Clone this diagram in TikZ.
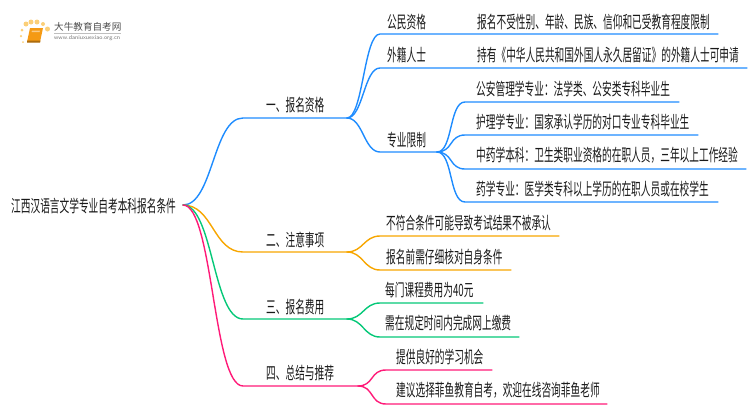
\documentclass[tikz,border=0pt]{standalone}
\usepackage{fontspec}
\newfontfamily\cjk[FakeStretch=.57]{Noto Sans CJK SC}
\newfontfamily\cjklogo{Noto Sans CJK SC}
\definecolor{linkblue}{HTML}{1E8CFF}
\definecolor{linkorange}{HTML}{F7A600}
\definecolor{linkgreen}{HTML}{05C878}
\definecolor{linkpink}{HTML}{FF1A78}
\definecolor{bookorange}{HTML}{F59A14}
\definecolor{dotyellow}{HTML}{FBCF78}
\tikzset{
	txt/.style={anchor=west,inner sep=0pt,text=black!90,font=\fontsize{17}{17}\selectfont\cjk},
	lnk/.style={line width=1.4pt,line cap=round},
	dotmark/.style={circle,fill=dotyellow,inner sep=0pt,minimum size=#1},
}
% long s-curve from the root, short one inside a branch
\newcommand{\longlink}[2]{(#1) .. controls +(30,0) and +(-30,0) .. (#2)}
\newcommand{\shortlink}[2]{(#1) .. controls +(16,0) and +(-16,0) .. (#2)}

\begin{document}
\begin{tikzpicture}[x=1pt,y=-1pt]
	\useasboundingbox (0,0) rectangle (750,410);

	% logo
	\node[dotmark=5pt] (dotA) at (26,24) {};
	\node[dotmark=5pt] (dotB) at (31,22) {};
	\node[dotmark=5pt] (dotC) at (37,22) {};
	\node[dotmark=4pt] (dotD) at (43,24) {};
	\node[dotmark=5pt] (dotE) at (47.5,29) {};
	\node[dotmark=3pt] (dotF) at (22,30) {};
	\node[dotmark=2.5pt] (dotG) at (21,36) {};
	\node[dotmark=2pt] (dotH) at (23,42) {};
	\fill[bookorange] (30,28) -- (43,28) -- (40,42) -- (27,42) -- cycle;
	\fill[bookorange!70!black] (27,40.5) -- (40.5,40.5) -- (40,42.5) -- (27,42.5) -- cycle;
	\fill[white,opacity=.5] (32,30.5) -- (40,30.5) -- (39.6,32) -- (31.6,32) -- cycle;
	\node[anchor=west,inner sep=0pt,text=black!70,font=\fontsize{9.6}{10}\selectfont\cjklogo] (logoname) at (54,27) {大牛教育自考网};
	\draw[black!25,line width=.5pt] (54,33.5) -- (121,33.5);
	\node[anchor=west,inner sep=0pt,text=black!55,font=\fontsize{5.9}{6}\selectfont\sffamily] (logourl) at (54,38.5) {www.daniuxuexiao.org.cn};

	% root and first level
	\node[txt] (root) at (11,206) {江西汉语言文学专业自考本科报名条件};
	\coordinate (rootout) at (183,205);

	\node[txt] (qual) at (266,105) {一、报名资格};
	\node[txt] (note) at (266,240) {二、注意事项};
	\node[txt] (fee) at (266,307) {三、报名费用};
	\node[txt] (sum) at (266,373) {四、总结与推荐};

	\coordinate (qualin) at (243,118);
	\coordinate (qualhub) at (347,118);
	\coordinate (notein) at (243,252);
	\coordinate (notehub) at (347,252);
	\coordinate (feein) at (243,319);
	\coordinate (feehub) at (347,319);
	\coordinate (sumin) at (243,386);
	\coordinate (sumhub) at (358,386);

	% blue branch
	\node[txt] (citizen) at (387,22) {公民资格};
	\node[txt] (citizenleaf) at (477,22) {报名不受性别、年龄、民族、信仰和已受教育程度限制};
	\node[txt] (foreign) at (387,55) {外籍人士};
	\node[txt] (foreignleaf) at (477,55) {持有《中华人民共和国外国人永久居留证》的外籍人士可申请};
	\node[txt] (major) at (387,140) {专业限制};
	\node[txt] (police) at (476,89) {公安管理学专业：法学类、公安类专科毕业生};
	\node[txt] (nurse) at (476,122) {护理学专业：国家承认学历的对口专业专科毕业生};
	\node[txt] (herb) at (476,155) {中药学本科：卫生类职业资格的在职人员，三年以上工作经验};
	\node[txt] (pharm) at (476,189) {药学专业：医学类专科以上学历的在职人员或在校学生};

	\coordinate (citizenin) at (380,34);
	\coordinate (citizenout) at (718,34);
	\coordinate (foreignin) at (380,68);
	\coordinate (foreignout) at (747,68);
	\coordinate (majorin) at (380,152);
	\coordinate (majorhub) at (437,152);
	\coordinate (policein) at (465,102);
	\coordinate (policeout) at (679,102);
	\coordinate (nursein) at (465,135);
	\coordinate (nurseout) at (698,135);
	\coordinate (herbin) at (465,169);
	\coordinate (herbout) at (746,169);
	\coordinate (pharmin) at (465,202);
	\coordinate (pharmout) at (718,202);

	\draw[lnk,linkblue] \longlink{rootout}{qualin} -- (qualhub);
	\draw[lnk,linkblue] \shortlink{qualhub}{citizenin} -- (citizenout);
	\draw[lnk,linkblue] \shortlink{qualhub}{foreignin} -- (foreignout);
	\draw[lnk,linkblue] \shortlink{qualhub}{majorin} -- (majorhub);
	\draw[lnk,linkblue] \shortlink{majorhub}{policein} -- (policeout);
	\draw[lnk,linkblue] \shortlink{majorhub}{nursein} -- (nurseout);
	\draw[lnk,linkblue] \shortlink{majorhub}{herbin} -- (herbout);
	\draw[lnk,linkblue] \shortlink{majorhub}{pharmin} -- (pharmout);

	% orange branch
	\node[txt] (result) at (386,223) {不符合条件可能导致考试结果不被承认};
	\node[txt] (check) at (386,257) {报名前需仔细核对自身条件};
	\coordinate (resultin) at (380,236);
	\coordinate (resultout) at (559,236);
	\coordinate (checkin) at (380,270);
	\coordinate (checkout) at (511,270);
	\draw[lnk,linkorange] \longlink{rootout}{notein} -- (notehub);
	\draw[lnk,linkorange] \shortlink{notehub}{resultin} -- (resultout);
	\draw[lnk,linkorange] \shortlink{notehub}{checkin} -- (checkout);

	% green branch
	\node[txt] (price) at (385,290) {每门课程费用为40元};
	\node[txt] (payment) at (385,323) {需在规定时间内完成网上缴费};
	\coordinate (pricein) at (380,303);
	\coordinate (priceout) at (483,303);
	\coordinate (paymentin) at (380,337);
	\coordinate (paymentout) at (519,337);
	\draw[lnk,linkgreen] \longlink{rootout}{feein} -- (feehub);
	\draw[lnk,linkgreen] \shortlink{feehub}{pricein} -- (priceout);
	\draw[lnk,linkgreen] \shortlink{feehub}{paymentin} -- (paymentout);

	% pink branch
	\node[txt] (chance) at (396,357) {提供良好的学习机会};
	\node[txt] (advice) at (396,390) {建议选择菲鱼教育自考，欢迎在线咨询菲鱼老师};
	\coordinate (chancein) at (386,370);
	\coordinate (chanceout) at (492,370);
	\coordinate (advicein) at (386,404);
	\coordinate (adviceout) at (607,404);
	\draw[lnk,linkpink] \longlink{rootout}{sumin} -- (sumhub);
	\draw[lnk,linkpink] \shortlink{sumhub}{chancein} -- (chanceout);
	\draw[lnk,linkpink] \shortlink{sumhub}{advicein} -- (adviceout);
\end{tikzpicture}
\end{document}
